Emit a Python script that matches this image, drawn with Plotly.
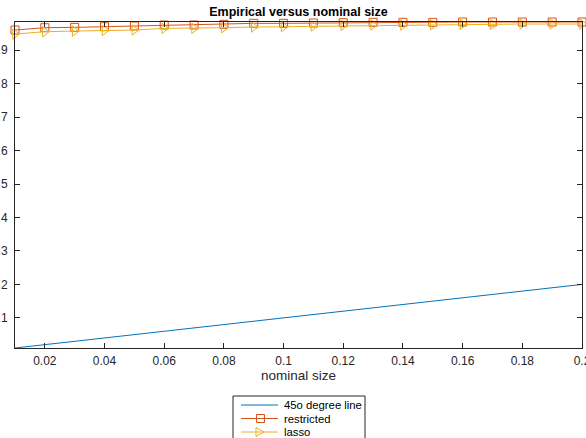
import plotly.graph_objects as go

nominal = [0.01, 0.02, 0.03, 0.04, 0.05, 0.06, 0.07, 0.08, 0.09, 0.10,
           0.11, 0.12, 0.13, 0.14, 0.15, 0.16, 0.17, 0.18, 0.19, 0.20]
line45 = [0.01, 0.02, 0.03, 0.04, 0.05, 0.06, 0.07, 0.08, 0.09, 0.10,
          0.11, 0.12, 0.13, 0.14, 0.15, 0.16, 0.17, 0.18, 0.19, 0.20]
restricted = [0.960, 0.967, 0.968, 0.970, 0.972, 0.975, 0.975, 0.977, 0.980, 0.980,
              0.981, 0.982, 0.983, 0.983, 0.983, 0.984, 0.984, 0.984, 0.984, 0.984]
lasso = [0.948, 0.955, 0.957, 0.959, 0.960, 0.965, 0.965, 0.967, 0.969, 0.970,
         0.972, 0.974, 0.975, 0.975, 0.976, 0.977, 0.977, 0.978, 0.978, 0.978]
xticks = [0.02, 0.04, 0.06, 0.08, 0.10, 0.12, 0.14, 0.16, 0.18, 0.20]
xticklabels = ["0.02", "0.04", "0.06", "0.08", "0.1", "0.12", "0.14", "0.16", "0.18", "0.2"]
yticks = [0.1, 0.2, 0.3, 0.4, 0.5, 0.6, 0.7, 0.8, 0.9]
yticklabels = ["0.1", "0.2", "0.3", "0.4", "0.5", "0.6", "0.7", "0.8", "0.9"]
legend_names = ["45o degree line", "restricted", "lasso"]

FONT = "Liberation Sans, Arial, Helvetica, sans-serif"
AX = "#262626"
COLORS = ["#0072BD", "#D95319", "#EDB120"]

W, H = 586, 438
ML, MR, MT, MB = 15, 4, 22, 90
PW, PH = W - ML - MR, H - MT - MB


def px(x):
    return (x - ML) / PW


def py(y):
    return (H - MB - y) / PH


fig = go.Figure()
fig.add_trace(go.Scatter(x=nominal, y=line45, mode="lines", name=legend_names[0],
                         line=dict(color=COLORS[0], width=1)))
fig.add_trace(go.Scatter(x=nominal, y=restricted, mode="lines+markers", name=legend_names[1],
                         line=dict(color=COLORS[1], width=1),
                         marker=dict(symbol="square-open", size=8, color=COLORS[1], line=dict(width=1)),
                         cliponaxis=False))
fig.add_trace(go.Scatter(x=nominal, y=lasso, mode="lines+markers", name=legend_names[2],
                         line=dict(color=COLORS[2], width=1),
                         marker=dict(symbol="triangle-right-open", size=9, color=COLORS[2], line=dict(width=1)),
                         cliponaxis=False))

axis_common = dict(showline=True, linecolor=AX, linewidth=1, mirror="ticks",
                   ticks="inside", ticklen=5, tickcolor=AX, tickwidth=1,
                   showgrid=False, zeroline=False, ticklabeloverflow="allow",
                   automargin=False,
                   tickfont=dict(family=FONT, size=12, color=AX))

fig.update_xaxes(range=[0.01, 0.2], tickvals=xticks, ticktext=xticklabels,
                 ticklabelstandoff=2,
                 title=dict(text="nominal size", font=dict(family=FONT, size=13.5, color=AX), standoff=2),
                 **axis_common)
fig.update_yaxes(range=[0.01, 0.984], tickvals=yticks, ticktext=yticklabels,
                 ticklabelstandoff=4, **axis_common)

# legend box (MATLAB style, cut by the bottom of the figure)
shapes = [dict(type="rect", xref="paper", yref="paper",
               x0=px(233), x1=px(365), y0=py(446), y1=py(396),
               line=dict(color=AX, width=1), fillcolor="white", layer="above")]
annotations = []
rows_y = [405, 418.5, 432]
for i, (name, col, ry) in enumerate(zip(legend_names, COLORS, rows_y)):
    shapes.append(dict(type="line", xref="paper", yref="paper",
                       x0=px(241), x1=px(278), y0=py(ry), y1=py(ry),
                       line=dict(color=col, width=1), layer="above"))
    if i == 1:
        shapes.append(dict(type="rect", xref="paper", yref="paper",
                           x0=px(256.5), x1=px(264.5), y0=py(ry + 4), y1=py(ry - 4),
                           line=dict(color=col, width=1), fillcolor="rgba(0,0,0,0)", layer="above"))
    if i == 2:
        cx, cy = 259.5, ry
        path = "M {a},{b} L {c},{d} L {a},{e} Z".format(
            a=px(cx - 3.5), b=py(cy - 4.5), c=px(cx + 4.5), d=py(cy), e=py(cy + 4.5))
        shapes.append(dict(type="path", xref="paper", yref="paper", path=path,
                           line=dict(color=col, width=1), fillcolor="rgba(0,0,0,0)", layer="above"))
    annotations.append(dict(text=name, xref="paper", yref="paper", x=px(282), y=py(ry),
                            xanchor="left", yanchor="middle", showarrow=False,
                            font=dict(family=FONT, size=11.3, color="black")))

fig.update_layout(
    width=W, height=H,
    margin=dict(l=ML, r=MR, t=MT, b=MB, autoexpand=False),
    plot_bgcolor="white", paper_bgcolor="white",
    title=dict(text="<b>Empirical versus nominal size</b>", x=0.5, xref="paper",
               y=1 - 12 / 438, yref="container", yanchor="middle", xanchor="center",
               font=dict(family=FONT, size=12.5, color="black")),
    font=dict(family=FONT, color=AX),
    showlegend=False,
    shapes=shapes,
    annotations=annotations,
)

fig.write_html("out.html")
